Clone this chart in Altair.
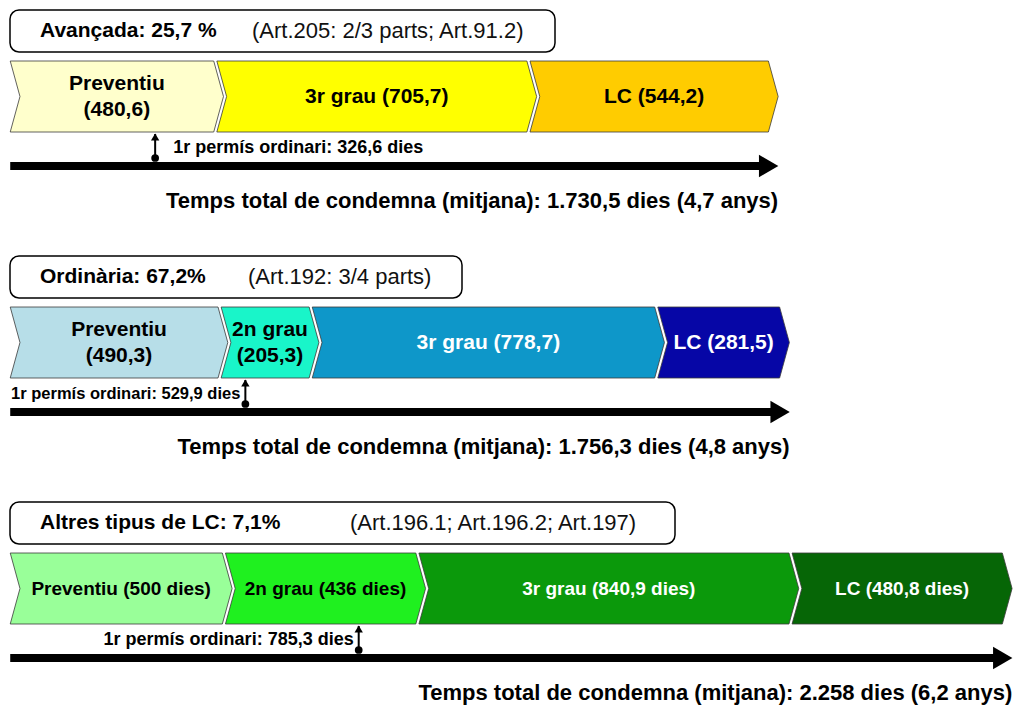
import altair as alt
import pandas as pd

# ---------------- data ----------------
group_titles = ["Avançada: 25,7 %", "Ordinària: 67,2%", "Altres tipus de LC: 7,1%"]
group_articles = ["(Art.205: 2/3 parts; Art.91.2)", "(Art.192: 3/4 parts)",
                  "(Art.196.1; Art.196.2; Art.197)"]
phases_avancada = ["Preventiu", "3r grau", "LC"]
days_avancada = [480.6, 705.7, 544.2]
phases_ordinaria = ["Preventiu", "2n grau", "3r grau", "LC"]
days_ordinaria = [490.3, 205.3, 778.7, 281.5]
phases_altres = ["Preventiu", "2n grau", "3r grau", "LC"]
days_altres = [500, 436, 840.9, 480.8]
first_leave_days = [326.6, 529.9, 785.3]
total_days = [1730.5, 1756.3, 2258]
total_years = [4.7, 4.8, 6.2]

# ---------------- style / layout ----------------
colors_avancada = ["#FFFFCC", "#FFFF00", "#FFCC00"]
colors_ordinaria = ["#B7DEE8", "#19F5C9", "#0E97C9", "#0606A6"]
colors_altres = ["#99FF99", "#1FF01F", "#0B990B", "#066606"]

phases = [phases_avancada, phases_ordinaria, phases_altres]
days = [days_avancada, days_ordinaria, days_altres]
colors = [colors_avancada, colors_ordinaria, colors_altres]

ROW_TOP = [10, 256, 502]          # page-pixel top of each block
BOX_RIGHT = [555, 462, 675]       # header box right edge (page px)
ART_X = [252, 248, 350]           # article text left (page px)
WRAP = [{"Preventiu"}, {"Preventiu", "2n grau"}, set()]
UNIT = ["", "", " dies"]
LABEL_SIZE = [21, 21, 19]
LEAVE_SIDE = ["right", "left", "left"]
LEAVE_SIZE = [18, 16.5, 18]
LINE_H = 26
TIP = 22   # chevron point depth (days units)
GAP = 7    # white gap between chevrons (days units)
FONT = "Liberation Sans"


def fmt(v):
    if float(v).is_integer():
        s = f"{int(round(v)):,}"
    else:
        s = f"{v:,.1f}"
    return s.replace(",", "_").replace(".", ",").replace("_", ".")


def text_color(hexc):
    r, g, b = (int(hexc[i:i + 2], 16) for i in (1, 3, 5))
    return "white" if (0.299 * r + 0.587 * g + 0.114 * b) / 255 < 0.5 else "black"


chev, labels, sids, cols = [], [], [], []
boxes, heads, leaves, totals = [], [], [], []
for r in range(3):
    T = ROW_TOP[r]
    top, bot = T + 51, T + 122
    mid = (top + bot) / 2
    cum = 0.0
    for i, (ph, d, c) in enumerate(zip(phases[r], days[r], colors[r])):
        s, e = cum, cum + d
        cum = e
        xl = s if i == 0 else s - TIP + GAP
        xr = e - TIP
        sid = f"{r}-{i}"
        sids.append(sid)
        cols.append(c)
        for yy, off in [(top, 0), (mid, TIP), (bot, 0)]:
            chev.append(dict(sid=sid, y=yy, xl=xl + off, xr=xr + off))
        val = fmt(d) + UNIT[r]
        wrap = ph in WRAP[r]
        txt = f"{ph}\n({val})" if wrap else f"{ph} ({val})"
        labels.append(dict(x=(xl + xr) / 2 + TIP / 2,
                           y=mid - (LINE_H / 2 if wrap else 0),
                           text=txt, tc=text_color(c), fs=LABEL_SIZE[r]))
    boxes.append(dict(bx0=2, bx1=BOX_RIGHT[r] - 8, y0=T, y1=T + 42, ty=T + 21,
                      tx=32, ax=ART_X[r] - 8, title=group_titles[r], art=group_articles[r]))
    leaves.append(dict(x=first_leave_days[r], ytop=T + 124, ytri=T + 127, ydot=T + 148,
                       yt=T + 138, side=LEAVE_SIDE[r], fs=LEAVE_SIZE[r],
                       text=f"1r permís ordinari: {fmt(first_leave_days[r])} dies"))
    heads.append(dict(x0=0, x1=total_days[r], y=T + 156))
    totals.append(dict(x=total_days[r], y=T + 191,
                       text=f"Temps total de condemna (mitjana): {fmt(total_days[r])} dies "
                            f"({fmt(total_years[r])} anys)"))

chev_df = pd.DataFrame(chev)
lab_df = pd.DataFrame(labels)
box_df = pd.DataFrame(boxes)
leave_df = pd.DataFrame(leaves)
head_df = pd.DataFrame(heads)
tot_df = pd.DataFrame(totals)

xs = alt.Scale(domain=[-5, 2262], nice=False, zero=False)
ys = alt.Scale(domain=[8, 705], reverse=True, nice=False, zero=False)

X = lambda f: alt.X(f, type="quantitative", scale=xs, axis=None)
Y = lambda f: alt.Y(f, type="quantitative", scale=ys, axis=None)

box = alt.Chart(box_df).mark_rect(cornerRadius=9, fill="white", stroke="black",
                                  strokeWidth=1.5).encode(
    x=alt.X("bx0:Q", scale=None), x2="bx1:Q", y=Y("y0"), y2="y1:Q")
box_title = alt.Chart(box_df).mark_text(font=FONT, fontSize=21, fontWeight="bold",
                                        align="left", baseline="middle").encode(
    x=alt.X("tx:Q", scale=None), y=Y("ty"), text="title:N")
box_art = alt.Chart(box_df).mark_text(font=FONT, fontSize=22, align="left",
                                      baseline="middle", color="#111").encode(
    x=alt.X("ax:Q", scale=None), y=Y("ty"), text="art:N")

chevrons = alt.Chart(chev_df).mark_area(orient="horizontal", stroke="#3a3a3a",
                                        strokeWidth=0.8, opacity=1).encode(
    y=Y("y"), x=X("xl"), x2="xr:Q",
    color=alt.Color("sid:N", scale=alt.Scale(domain=sids, range=cols), legend=None))

chev_text = alt.Chart(lab_df).mark_text(font=FONT, fontWeight="bold",
                                        lineBreak="\n", lineHeight=LINE_H,
                                        align="center", baseline="middle").encode(
    x=X("x"), y=Y("y"), text="text:N", color=alt.Color("tc:N", scale=None),
    size=alt.Size("fs:Q", scale=None))

leave_rule = alt.Chart(leave_df).mark_rule(strokeWidth=2, color="black").encode(
    x=X("x"), y=Y("ytop"), y2="ydot:Q")
leave_tri = alt.Chart(leave_df).mark_point(shape="triangle-up", filled=True, size=70,
                                           color="black", opacity=1).encode(
    x=X("x"), y=Y("ytri"))
leave_dot = alt.Chart(leave_df).mark_circle(size=60, color="black", opacity=1).encode(
    x=X("x"), y=Y("ydot"))
leave_txt_r = alt.Chart(leave_df).transform_filter(alt.datum.side == "right").mark_text(
    font=FONT, fontWeight="bold", align="left", baseline="middle", dx=18
).encode(x=X("x"), y=Y("yt"), text="text:N", size=alt.Size("fs:Q", scale=None))
leave_txt_l = alt.Chart(leave_df).transform_filter(alt.datum.side == "left").mark_text(
    font=FONT, fontWeight="bold", align="right", baseline="middle", dx=-5
).encode(x=X("x"), y=Y("yt"), text="text:N", size=alt.Size("fs:Q", scale=None))

shaft = alt.Chart(head_df).mark_rule(strokeWidth=8, color="black", x2Offset=-14).encode(
    x=X("x0"), x2=alt.X2("x1"), y=Y("y"))
head = alt.Chart(head_df).mark_point(shape="triangle-right", filled=True, size=500,
                                     color="black", opacity=1, xOffset=-9.5).encode(
    x=X("x1"), y=Y("y"))

total_txt = alt.Chart(tot_df).mark_text(font=FONT, fontSize=22, fontWeight="bold",
                                        align="right", baseline="middle").encode(
    x=X("x"), y=Y("y"), text="text:N")

chart = alt.layer(
    box, box_title, box_art, chevrons, chev_text,
    shaft, head, leave_rule, leave_tri, leave_dot, leave_txt_r, leave_txt_l, total_txt
).properties(
    width=1006, height=697, padding=0,
    autosize=alt.AutoSizeParams(type="none")
).configure_view(stroke=None)

chart.save("out.html", embed_options={"renderer": "svg", "actions": False})
